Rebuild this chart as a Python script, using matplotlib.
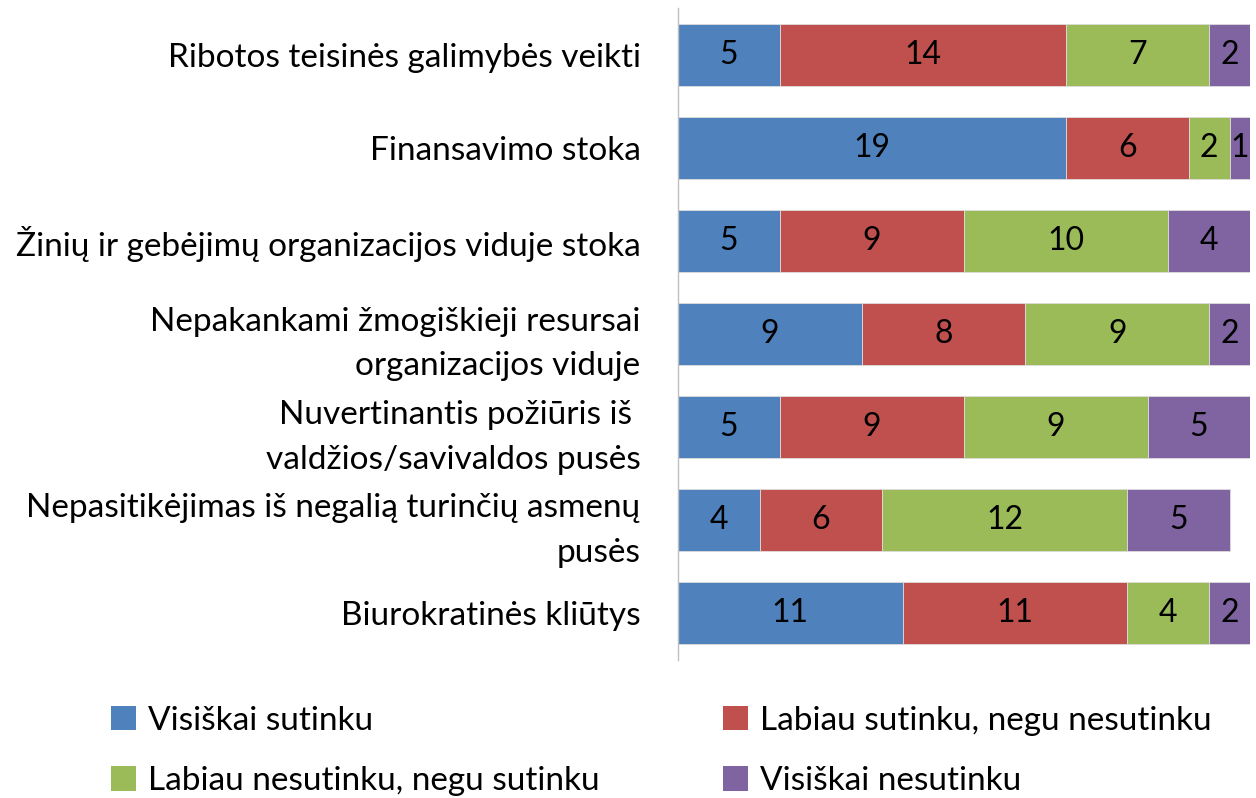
import numpy as np
import matplotlib.pyplot as plt
from matplotlib.patches import Patch

plt.rcParams['font.family'] = ['Lato', 'DejaVu Sans']

categories = [
    'Ribotos teisinės galimybės veikti',
    'Finansavimo stoka',
    'Žinių ir gebėjimų organizacijos viduje stoka',
    'Nepakankami žmogiškieji resursai\norganizacijos viduje',
    'Nuvertinantis požiūris iš \nvaldžios/savivaldos pusės',
    'Nepasitikėjimas iš negalią turinčių asmenų\npusės',
    'Biurokratinės kliūtys',
]
series_names = ['Visiškai sutinku', 'Labiau sutinku, negu nesutinku',
                'Labiau nesutinku, negu sutinku', 'Visiškai nesutinku']
visiskai_sutinku = [5, 19, 5, 9, 5, 4, 11]
labiau_sutinku = [14, 6, 9, 8, 9, 6, 11]
labiau_nesutinku = [7, 2, 10, 9, 9, 12, 4]
visiskai_nesutinku = [2, 1, 4, 2, 5, 5, 2]
colors = ['#4F81BD', '#C0504D', '#9BBB59', '#8064A2']

series = [visiskai_sutinku, labiau_sutinku, labiau_nesutinku, visiskai_nesutinku]

fig = plt.figure(figsize=(12.56, 7.98), dpi=100)
ax = fig.add_axes([678 / 1256, 1 - 660 / 798, 572 / 1256, 652 / 798])

y = np.arange(len(categories))
left = np.zeros(len(categories))
for vals, c in zip(series, colors):
    vals = np.array(vals)
    ax.barh(y, vals, left=left, height=0.665, color=c,
            edgecolor='#dddddd', linewidth=0.6)
    for yi, l, v in zip(y, left, vals):
        ax.text(l + v / 2, yi, str(v), ha='center', va='center',
                fontsize=23, color='black')
    left += vals

ax.set_xlim(0, 28)
ax.set_ylim(6.5, -0.5)
ax.set_yticks(y)
ax.set_yticklabels(categories, fontsize=24, ha='right', linespacing=1.6)
ax.tick_params(axis='y', length=0, pad=27)
ax.set_xticks([])
for s in ['top', 'right', 'bottom']:
    ax.spines[s].set_visible(False)
ax.spines['left'].set_color('#bfbfbf')
ax.spines['left'].set_linewidth(1.0)

handles = [Patch(facecolor=c) for c in colors]
order = [0, 2, 1, 3]
fig.legend([handles[i] for i in order], [series_names[i] for i in order],
           loc='center', bbox_to_anchor=(0.5265, 0.059), ncol=2, frameon=False,
           fontsize=24, handlelength=0.75, handleheight=0.75, handletextpad=0.35,
           columnspacing=3.72, labelspacing=0.92)

fig.savefig('out.png', dpi=100)
